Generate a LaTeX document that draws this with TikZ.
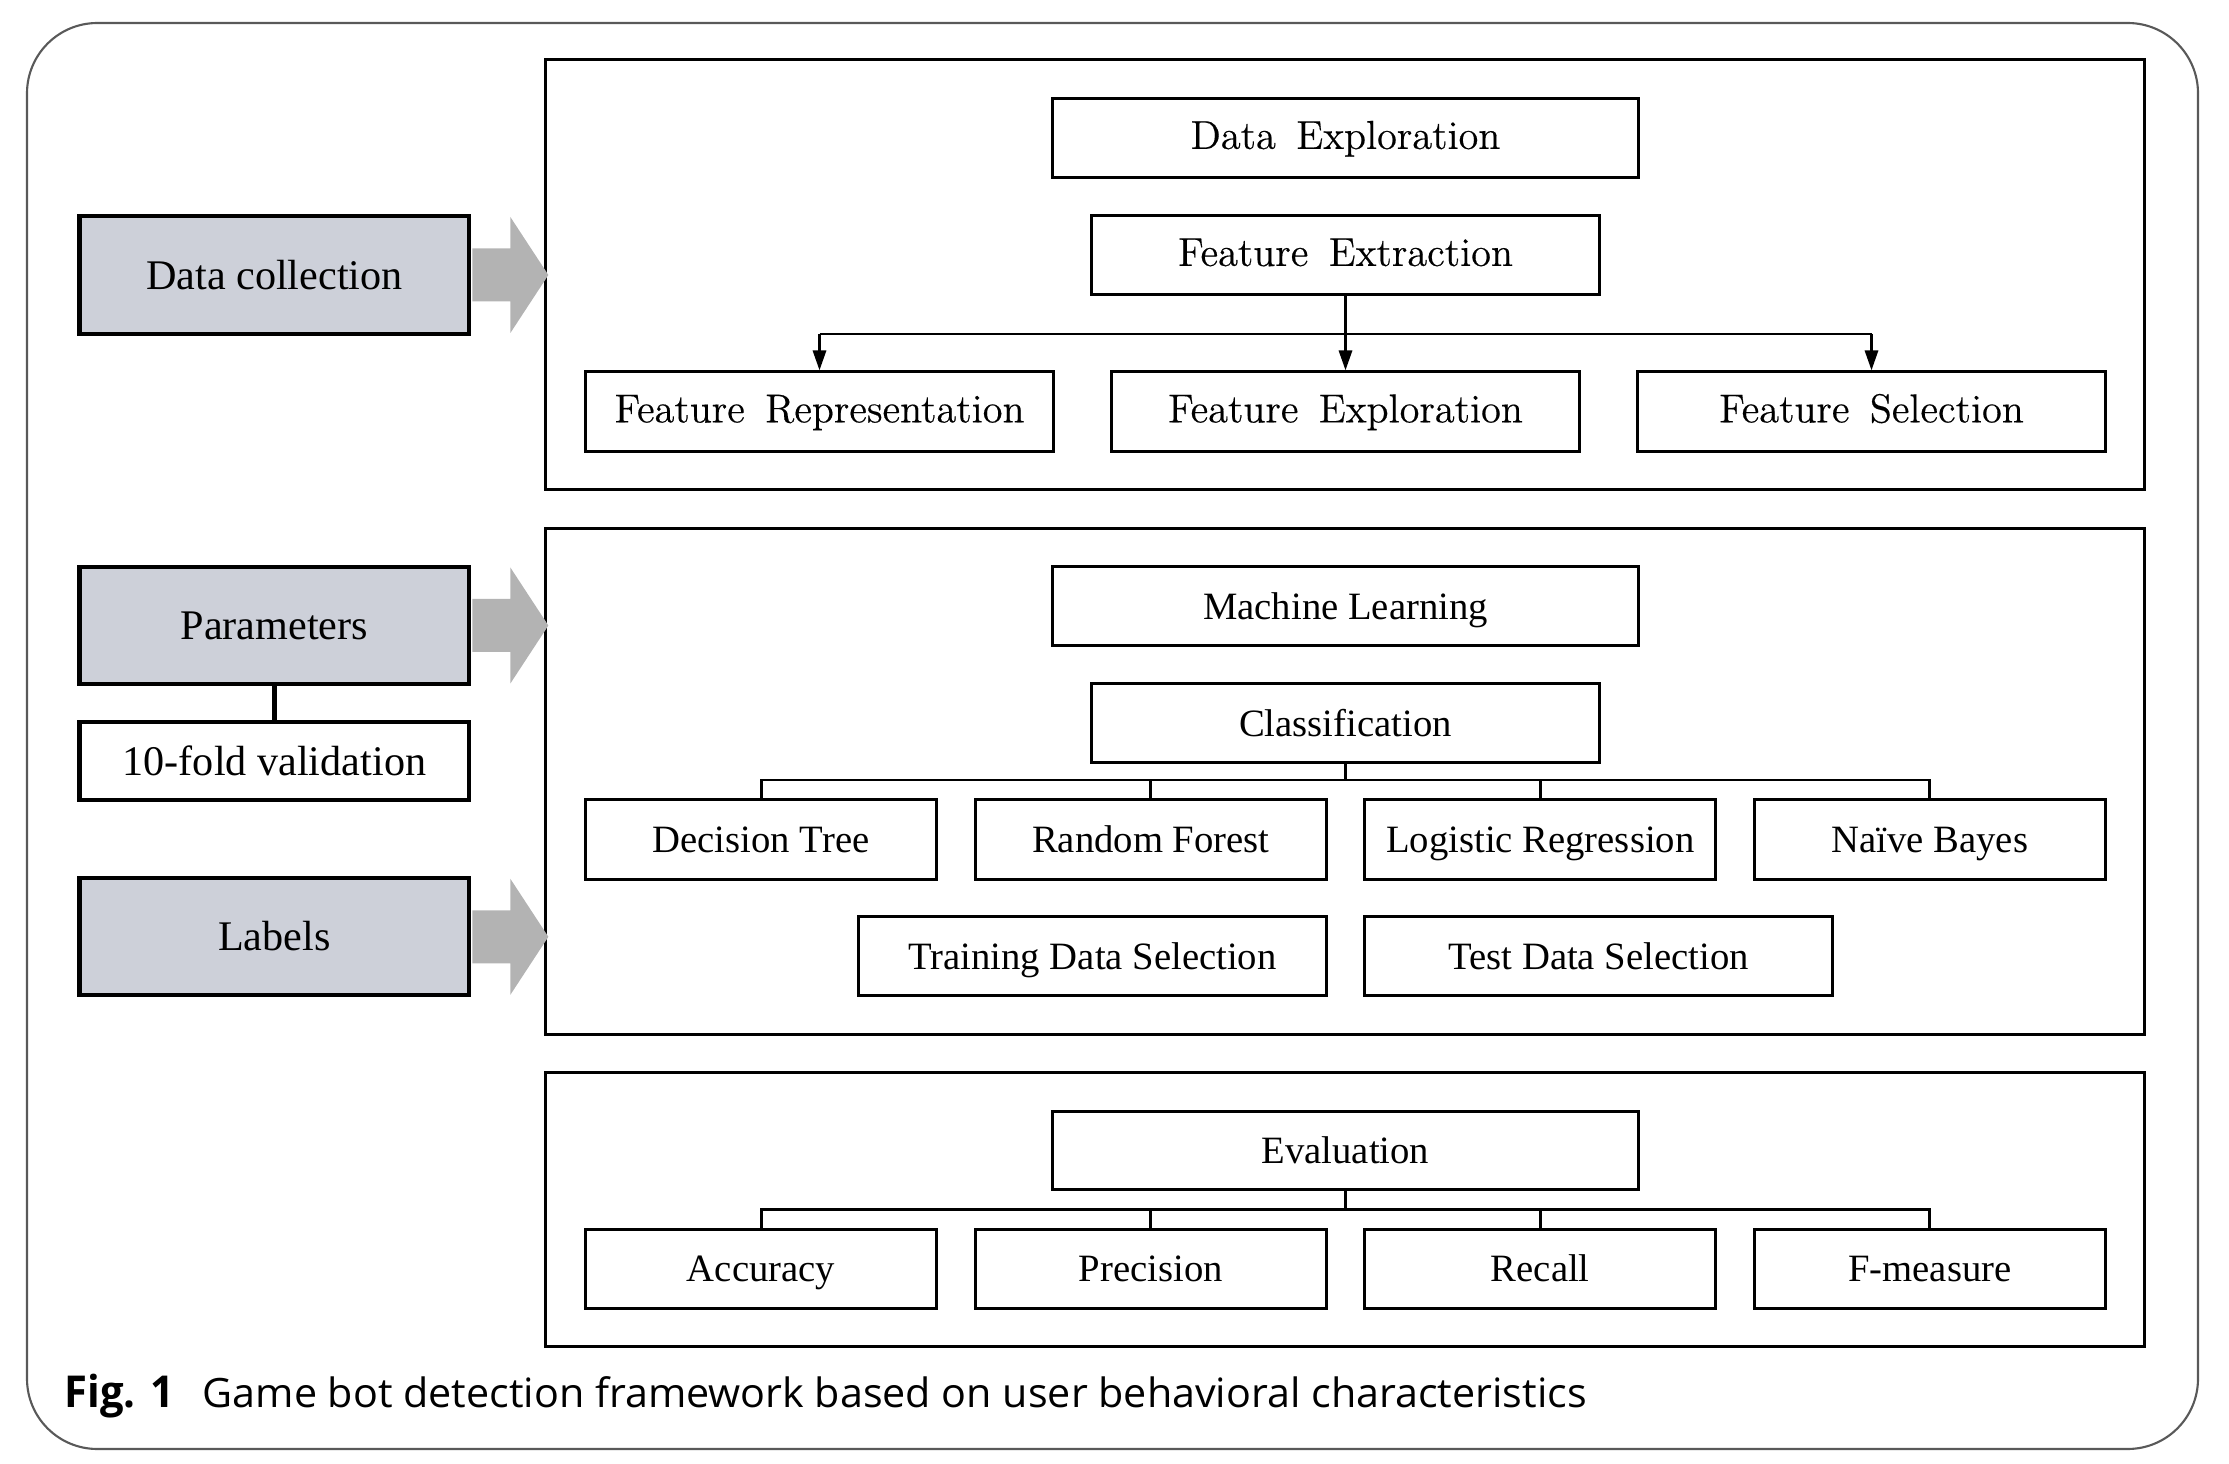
\documentclass[tikz,border=0pt]{standalone}
\usepackage{fontspec}
\newfontfamily\tms{Liberation Serif}
\newfontfamily\capfont{Open Sans}
\newfontfamily\cmfont{Latin Modern Roman}[FakeBold=0.4]
\usetikzlibrary{calc,arrows.meta}
\definecolor{boxfill}{RGB}{205,208,217}
\definecolor{arrgray}{RGB}{179,179,179}
\newcommand\widespaces{\spaceskip 5.8pt plus 1pt\relax}
\newcommand\grayarrow[1]{%
  \fill[arrgray] ($(#1.east)+(1,-26.5)$) -- ++(38,0) -- ++(0,-31.5) -- ($(#1.east)+(77,0)$)
   -- ($(#1.east)+(39,58)$) -- ++(0,-31.5) -- ($(#1.east)+(1,26.5)$) -- cycle;}
\begin{document}
\begin{tikzpicture}[x=0.01cm,y=-0.01cm,
 cmbox/.style={draw,line width=0.85pt,minimum height=7.8mm,inner sep=0pt,text height=8.6pt,text depth=2.4pt,font=\cmfont\fontsize{11.5}{13}\selectfont\widespaces},
 tbox/.style={draw,line width=0.85pt,minimum height=7.8mm,inner sep=0pt,text height=9.2pt,text depth=1.7pt,font=\tms\fontsize{11}{13}\selectfont},
 lbox/.style={draw,line width=1.2pt,minimum width=38.95mm,inner sep=0pt,text height=9.8pt,text depth=1.8pt,font=\tms\fontsize{12}{14}\selectfont},
 sec/.style={draw,line width=0.85pt,inner sep=0pt,minimum width=159.8mm},
 conn/.style={line width=0.85pt},
 tipc/.style={-{Triangle[length=2mm,width=1.3mm]}}
]
\useasboundingbox (0,0) rectangle (2229,1464);
\draw[black!65,line width=0.6pt,rounded corners=20] (27,23) rectangle (2198,1449);

% sections
\node[sec,minimum height=42.9mm] (s1) at (1345,274.5) {};
\node[sec,minimum height=50.5mm] (s2) at (1345,781.5) {};
\node[sec,minimum height=27.3mm] (s3) at (1345,1209.5) {};

% left boxes
\node[lbox,fill=boxfill,minimum height=11.8mm] (dc) at (274.4,275) {Data collection};
\node[lbox,fill=boxfill,minimum height=11.7mm] (par) at (274.4,625.5) {Parameters};
\node[lbox,minimum height=7.8mm] (kf) at (274.4,761.3) {10-fold validation};
\node[lbox,fill=boxfill,minimum height=11.7mm] (lab) at (274.4,936.8) {Labels};
\draw[line width=1.2pt] (par.south) -- (kf.north);
\grayarrow{dc}
\grayarrow{par}
\grayarrow{lab}

% top section
\node[cmbox,minimum width=58.5mm] (dexp) at (1345.5,138) {Data Exploration};
\node[cmbox,minimum width=50.7mm] (fext) at (1345.5,255) {Feature Extraction};
\node[cmbox,minimum width=46.7mm,minimum height=7.9mm] (frep) at (819.5,411.5) {Feature Representation};
\node[cmbox,minimum width=46.7mm,minimum height=7.9mm] (fexp) at (1345.5,411.5) {Feature Exploration};
\node[cmbox,minimum width=46.7mm,minimum height=7.9mm] (fsel) at (1871.5,411.5) {Feature Selection};
\coordinate (bus1) at (1345.5,334);
\draw[conn] (bus1 -| frep.north) -- (bus1 -| fsel.north);
\draw[conn,tipc] (fext.south) -- (fexp.north);
\draw[conn,tipc] (bus1 -| frep.north) -- (frep.north);
\draw[conn,tipc] (bus1 -| fsel.north) -- (fsel.north);

% middle section
\node[tbox,minimum width=58.5mm] (ml) at (1345.5,606) {Machine Learning};
\node[tbox,minimum width=50.7mm] (cls) at (1345.5,723) {Classification};
\node[tbox,minimum width=35.1mm,minimum height=7.9mm] (dt) at (761,839.5) {Decision Tree};
\node[tbox,minimum width=35.1mm,minimum height=7.9mm] (rf) at (1150.8,839.5) {Random Forest};
\node[tbox,minimum width=35.1mm,minimum height=7.9mm] (lr) at (1540.3,839.5) {Logistic Regression};
\node[tbox,minimum width=35.1mm,minimum height=7.9mm] (nb) at (1929.9,839.5) {Naïve Bayes};
\node[tbox,minimum width=46.8mm] (trn) at (1092.5,956) {Training Data Selection};
\node[tbox,minimum width=46.8mm] (tst) at (1598.6,956) {Test Data Selection};
\coordinate (bus2) at (1345.5,780);
\draw[conn] (cls.south) -- (bus2);
\draw[conn] (dt.north) -- (bus2 -| dt.north) -- (bus2 -| nb.north) -- (nb.north);
\draw[conn] (rf.north) -- (bus2 -| rf.north);
\draw[conn] (lr.north) -- (bus2 -| lr.north);

% bottom section
\node[tbox,minimum width=58.5mm] (ev) at (1345.5,1150.8) {Evaluation};
\node[tbox,minimum width=35.1mm,minimum height=7.9mm] (acc) at (761,1268.8) {Accuracy};
\node[tbox,minimum width=35.1mm,minimum height=7.9mm] (pre) at (1150.8,1268.8) {Precision};
\node[tbox,minimum width=35.1mm,minimum height=7.9mm] (rec) at (1540.3,1268.8) {Recall};
\node[tbox,minimum width=35.1mm,minimum height=7.9mm] (fm) at (1929.9,1268.8) {F-measure};
\coordinate (bus3) at (1345.5,1209.8);
\draw[conn] (ev.south) -- (bus3);
\draw[conn] (acc.north) -- (bus3 -| acc.north) -- (bus3 -| fm.north) -- (fm.north);
\draw[conn] (pre.north) -- (bus3 -| pre.north);
\draw[conn] (rec.north) -- (bus3 -| rec.north);

% caption
\node[anchor=base west,inner sep=0pt,xscale=0.95,font=\capfont\bfseries\fontsize{12.5}{15}\selectfont] (fig) at (64,1407) {Fig. 1};
\node[anchor=base west,inner sep=0pt,xscale=1.02,font=\capfont\fontsize{11.5}{15}\selectfont] (cap) at (202,1407) {Game bot detection framework based on user behavioral characteristics};
\end{tikzpicture}
\end{document}
